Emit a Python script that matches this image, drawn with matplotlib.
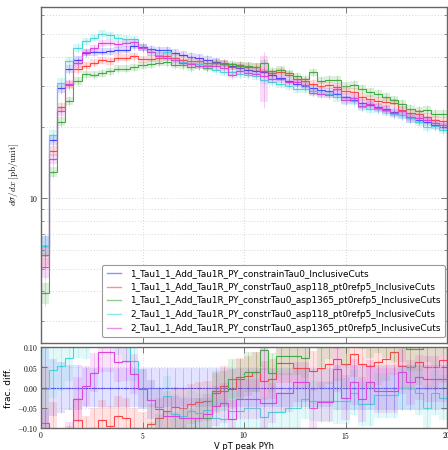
import numpy as np
import matplotlib
matplotlib.use('Agg')
import matplotlib.pyplot as plt
from matplotlib.ticker import FixedLocator, NullFormatter, FuncFormatter

plt.rcParams['mathtext.fontset'] = 'cm'

# 50 bins of width 0.4 from 0 to 20
edges = np.linspace(0, 20, 51)

labels = ['1_Tau1_1_Add_Tau1R_PY_constrainTau0_InclusiveCuts',
          '1_Tau1_1_Add_Tau1R_PY_constrTau0_asp118_pt0refp5_InclusiveCuts',
          '1_Tau1_1_Add_Tau1R_PY_constrTau0_asp1365_pt0refp5_InclusiveCuts',
          '2_Tau1_1_Add_Tau1R_PY_constrTau0_asp118_pt0refp5_InclusiveCuts',
          '2_Tau1_1_Add_Tau1R_PY_constrTau0_asp1365_pt0refp5_InclusiveCuts']
colors = ['#4444ff', '#ff4444', '#44aa44', '#44d8d8', '#dd44dd']

# reference sample (blue), dsigma/dx
blue = [6.25, 17.7, 29.3, 35.5, 38.5, 41.5, 41.8, 42.0, 42.2, 42.5,
        42.8, 44.5, 43.8, 43.0, 42.6, 42.5, 41.5, 40.7, 40.0, 39.5,
        38.8, 38.0, 37.3, 36.3, 35.8, 35.2, 34.8, 34.2, 33.3, 32.5,
        31.5, 30.6, 29.9, 29.5, 28.7, 28.5, 27.7, 26.9, 26.2, 25.4,
        24.9, 24.4, 23.8, 23.2, 22.5, 21.8, 21.4, 21.1, 20.5, 20.0]

# fractional difference of the other samples w.r.t. blue
frac_red = [-0.088, -0.107, -0.17, -0.15, -0.081, -0.12, -0.10, -0.08, -0.095, -0.07,
            -0.075, -0.10, -0.11, -0.09, -0.076, -0.058, -0.048, -0.05, -0.04, -0.035,
            -0.033, -0.013, 0.004, -0.004, 0.025, 0.029, 0.0375, 0.017, 0.021, 0.061,
            0.061, 0.048, 0.048, 0.04, 0.048, 0.058, 0.071, 0.058, 0.083, 0.058,
            0.054, 0.062, 0.071, 0.088, 0.054, 0.05, 0.062, 0.05, 0.05, 0.067]
frac_green = [-0.37, -0.27, -0.28, -0.27, -0.18, -0.19, -0.20, -0.19, -0.18, -0.165,
              -0.17, -0.19, -0.16, -0.135, -0.115, -0.11, -0.11, -0.10, -0.10, -0.075,
              -0.075, -0.008, -0.008, 0.021, 0.021, 0.0375, 0.0375, 0.092, 0.037, 0.079,
              0.079, 0.079, 0.072, 0.16, 0.10, 0.12, 0.15, 0.11, 0.16, 0.15,
              0.13, 0.14, 0.13, 0.12, 0.12, 0.096, 0.096, 0.12, 0.11, 0.135]
frac_cyan = [-0.004, 0.044, 0.054, 0.073, 0.13, 0.12, 0.15, 0.19, 0.17, 0.13,
             0.11, 0.065, -0.004, -0.03, -0.049, -0.02, -0.065, -0.07, -0.058, -0.063,
             -0.055, -0.076, -0.078, -0.058, -0.058, -0.05, -0.05, -0.073, -0.06, -0.06,
             -0.05, -0.05, -0.029, -0.033, -0.033, -0.033, -0.033, -0.033, -0.0125, -0.04,
             -0.04, -0.019, -0.019, -0.019, 0.0, 0.0, -0.0125, -0.05, -0.0125, -0.025]
frac_mag = [-0.19, -0.175, -0.2, -0.14, -0.029, 0.004, 0.037, 0.087, 0.087, 0.063,
            0.065, 0.033, -0.004, -0.03, -0.053, -0.071, -0.071, -0.075, -0.075, -0.075,
            -0.065, -0.045, -0.0375, -0.079, -0.029, -0.029, -0.029, -0.0375, -0.0375, -0.0125,
            -0.0125, 0.014, 0.014, -0.05, -0.036, -0.036, 0.046, -0.025, 0.014, -0.029,
            0.0125, -0.008, -0.008, -0.008, 0.039, 0.0125, 0.025, 0.021, 0.021, 0.021]

# relative statistical uncertainty per bin
rel_err = [0.10, 0.05, 0.045, 0.04, 0.04, 0.035, 0.035, 0.035, 0.035, 0.035,
           0.035, 0.035, 0.035, 0.035, 0.035, 0.035, 0.035, 0.035, 0.035, 0.035,
           0.035, 0.035, 0.035, 0.035, 0.035, 0.035, 0.035, 0.035, 0.035, 0.035,
           0.035, 0.035, 0.035, 0.035, 0.035, 0.035, 0.04, 0.04, 0.04, 0.04,
           0.04, 0.04, 0.04, 0.04, 0.04, 0.04, 0.04, 0.04, 0.04, 0.04]
mag_outlier = {27: 0.22}

blue = np.array(blue)
fracs = [np.zeros(50), np.array(frac_red), np.array(frac_green),
         np.array(frac_cyan), np.array(frac_mag)]
centers = 0.5 * (edges[1:] + edges[:-1])

fig = plt.figure(figsize=(4.48, 4.5), dpi=100)
ax = fig.add_axes([41/448, 1-342.5/450, 406/448, 335.5/450])
rax = fig.add_axes([41/448, 1-428/450, 406/448, 81/450])

for k, (fr, c, lab) in enumerate(zip(fracs, colors, labels)):
    err = np.array(rel_err)
    if k == 4:
        for b, e in mag_outlier.items():
            err[b] = e
    vals = blue * (1 + fr)
    ax.stairs(vals * (1 + err), edges, baseline=vals * (1 - err), fill=True,
              color=c, alpha=0.18, lw=0)
    ax.errorbar(centers, vals, yerr=vals * err * 1.2, fmt='.', ms=1.2, color=c,
                elinewidth=0.5, alpha=0.4)
    ax.stairs(vals, edges, baseline=None, color=c, lw=0.8)
    ax.plot([], [], color=c, lw=1, alpha=0.6, label=lab)

    rerr = err * 1.4
    rax.stairs(fr + rerr, edges, baseline=fr - rerr, fill=True, color=c, alpha=0.15, lw=0)
    rax.errorbar(centers, fr, yerr=rerr, fmt='.', ms=1.0, color=c,
                 elinewidth=0.5, alpha=0.35)
    rax.stairs(fr, edges, baseline=None, color=c, lw=0.8)

spine_col = '#666666'
grid_kw = dict(ls=(0, (1, 2.5)), color='#c8c8c8', lw=0.6)
for a in (ax, rax):
    a.set_xlim(0, 20)
    for s in a.spines.values():
        s.set_color(spine_col)
        s.set_linewidth(1.0)
    a.tick_params(which='both', direction='in', top=True, right=True,
                  color=spine_col, labelsize=5.5, pad=2)
    a.tick_params(which='major', length=4, width=0.6)
    a.tick_params(which='minor', length=2, width=0.5)
    a.xaxis.set_major_locator(FixedLocator([0, 5, 10, 15, 20]))
    a.grid(True, which='major', axis='x', **grid_kw)

ax.set_yscale('log')
ax.set_ylim(2.42, 65)
ax.yaxis.set_major_locator(FixedLocator([10]))
ax.yaxis.set_minor_locator(FixedLocator([3, 4, 5, 6, 7, 8, 9, 20, 30, 40, 50, 60]))
ax.yaxis.set_minor_formatter(NullFormatter())
ax.yaxis.set_major_formatter(FuncFormatter(lambda v, p: r'$%g$' % v))
ax.xaxis.set_major_formatter(NullFormatter())
ax.grid(True, which='both', axis='y', **grid_kw)
ax.set_ylabel(r'$d\sigma/dx\ [\mathrm{pb/unit}]$', fontsize=6.5, labelpad=6)

leg = ax.legend(loc='lower right', bbox_to_anchor=(0.995, 0.016), borderaxespad=0,
                fontsize=6.4, handlelength=1.6, handletextpad=1.0, labelspacing=0.52,
                borderpad=0.5, framealpha=1)
leg.get_frame().set_edgecolor('#999999')
leg.get_frame().set_linewidth(0.8)

rax.set_ylim(-0.1, 0.1)
rax.yaxis.set_major_locator(FixedLocator([-0.1, -0.05, 0.0, 0.05, 0.1]))
rax.yaxis.set_major_formatter(FuncFormatter(lambda v, p: r'$%.2f$' % v))
rax.xaxis.set_major_formatter(FuncFormatter(lambda v, p: r'$%g$' % v))
rax.tick_params(axis='x', pad=1.5)
rax.grid(True, which='major', axis='y', **grid_kw)
rax.set_ylabel('frac. diff.', fontsize=6.5, labelpad=3)
rax.set_xlabel('V pT peak PYh', fontsize=6.0, labelpad=0.5)

fig.savefig('out.png', dpi=100)
